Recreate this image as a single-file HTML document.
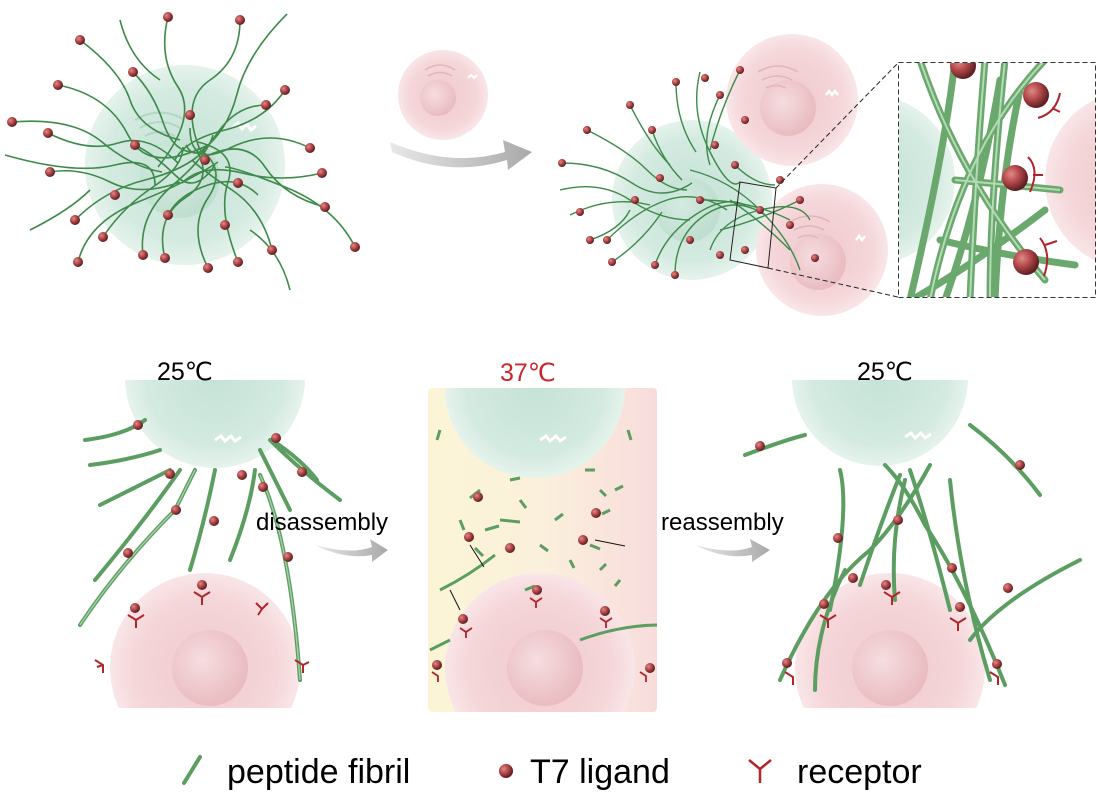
<!DOCTYPE html>
<html><head><meta charset="utf-8"><style>
html,body{margin:0;padding:0;background:#fff;}
svg{display:block;}
text{font-family:"Liberation Sans",Arial,sans-serif;}
</style></head><body>
<svg width="1098" height="796" viewBox="0 0 1098 796" xmlns="http://www.w3.org/2000/svg">
<defs>
<radialGradient id="gc" cx="50%" cy="50%" r="50%"><stop offset="0" stop-color="#c6e2d6"/><stop offset="0.75" stop-color="#d3eae0"/><stop offset="1" stop-color="#e6f3ed"/></radialGradient>
<radialGradient id="pc" cx="50%" cy="50%" r="50%"><stop offset="0" stop-color="#efc9cd"/><stop offset="0.75" stop-color="#f5d6d9"/><stop offset="1" stop-color="#f9e6e8"/></radialGradient>
<radialGradient id="gn" cx="40%" cy="40%" r="60%"><stop offset="0" stop-color="#d8ece3"/><stop offset="1" stop-color="#bcdccd"/></radialGradient>
<radialGradient id="pn" cx="40%" cy="40%" r="60%"><stop offset="0" stop-color="#f6dde0"/><stop offset="1" stop-color="#e9bcc1"/></radialGradient>
<radialGradient id="ball" cx="35%" cy="35%" r="65%"><stop offset="0" stop-color="#e08a88"/><stop offset="0.5" stop-color="#b3484a"/><stop offset="1" stop-color="#5e1f22"/></radialGradient>
<linearGradient id="mid" x1="0" x2="1"><stop offset="0" stop-color="#fbf5d6"/><stop offset="0.5" stop-color="#fbf0dc"/><stop offset="1" stop-color="#f8dcdc"/></linearGradient>
<linearGradient id="arr" x1="0" x2="1"><stop offset="0" stop-color="#e8e8e8"/><stop offset="1" stop-color="#a9a9a9"/></linearGradient>
<clipPath id="inset"><rect x="899" y="63" width="197" height="234"/></clipPath>
<clipPath id="bl"><rect x="0" y="380" width="1098" height="328"/></clipPath>
<clipPath id="bm"><rect x="428" y="388" width="229" height="324" rx="4"/></clipPath>
</defs>

<!-- ===== TOP LEFT ===== -->
<circle cx="185" cy="165" r="100" fill="url(#gc)"/>
<circle cx="180" cy="178" r="40" fill="url(#gn)" opacity="0.8"/>
<path d="M135 120 q25 -15 50 0 M140 128 q20 -12 40 0 M145 136 q15 -8 30 0" stroke="#b5d5c6" stroke-width="2" fill="none"/>
<path d="M232 128 l6 -5 l4 6 l5 -5 l4 6 l5 -4" stroke="#fff" stroke-width="3" fill="none"/>
<g stroke="#3d8a4a" stroke-width="1.6" fill="none">
<path d="M168 17 q-10 40 10 70 t-20 80"/>
<path d="M80 40 q40 30 50 60 t50 40"/>
<path d="M58 85 q50 10 70 50 t80 10"/>
<path d="M12 122 q60 -5 90 20 t60 30"/>
<path d="M48 133 q40 20 70 10 t60 20"/>
<path d="M5 155 q70 20 110 10 t40 20"/>
<path d="M50 172 q30 -5 60 10 t70 0"/>
<path d="M75 220 q30 -30 70 -40 t60 -30"/>
<path d="M78 262 q10 -40 60 -60 t80 -40"/>
<path d="M103 237 q20 -30 50 -50 t30 -40"/>
<path d="M143 255 q-5 -40 30 -70 t40 -50"/>
<path d="M165 258 q-10 -40 20 -60 t10 -50"/>
<path d="M208 268 q-20 -40 0 -70 t-10 -50"/>
<path d="M238 262 q-20 -50 -10 -80 t-30 -40"/>
<path d="M272 250 q-10 -40 -40 -60 t-40 -30"/>
<path d="M325 207 q-40 -10 -60 -40 t-60 -10"/>
<path d="M355 247 q-20 -40 -70 -60 t-60 -20"/>
<path d="M322 173 q-40 10 -80 0 t-60 10"/>
<path d="M310 148 q-40 -20 -80 0 t-40 -20"/>
<path d="M285 90 q-20 30 -60 40 t-50 30"/>
<path d="M266 105 q-30 0 -50 30 t-30 10"/>
<path d="M240 20 q0 40 -30 60 t-10 70"/>
<path d="M287 14 q-40 40 -50 80 t-40 60"/>
<path d="M133 72 q20 20 30 50 t30 30"/>
<path d="M135 145 q20 10 40 30 t40 -10"/>
<path d="M168 215 q10 -20 40 -30 t50 10"/>
<path d="M120 20 q10 40 40 60"/>
<path d="M30 230 q40 -20 60 -40"/>
<path d="M290 290 q-10 -40 -40 -60"/>
</g>
<g fill="url(#ball)">
<circle cx="168" cy="17" r="5"/><circle cx="80" cy="40" r="5"/><circle cx="58" cy="85" r="5"/><circle cx="12" cy="122" r="5"/><circle cx="48" cy="133" r="5"/><circle cx="50" cy="172" r="5"/><circle cx="75" cy="220" r="5"/><circle cx="78" cy="262" r="5"/><circle cx="103" cy="237" r="5"/><circle cx="143" cy="255" r="5"/><circle cx="165" cy="258" r="5"/><circle cx="208" cy="268" r="5"/><circle cx="238" cy="262" r="5"/><circle cx="272" cy="250" r="5"/><circle cx="325" cy="207" r="5"/><circle cx="355" cy="247" r="5"/><circle cx="322" cy="173" r="5"/><circle cx="310" cy="148" r="5"/><circle cx="285" cy="90" r="5"/><circle cx="266" cy="105" r="5"/><circle cx="240" cy="20" r="5"/><circle cx="133" cy="72" r="5"/><circle cx="135" cy="145" r="5"/><circle cx="168" cy="215" r="5"/><circle cx="238" cy="183" r="5"/><circle cx="205" cy="160" r="5"/><circle cx="190" cy="115" r="5"/><circle cx="115" cy="195" r="5"/><circle cx="225" cy="225" r="5"/>
</g>

<!-- small pink cell + arrow -->
<circle cx="443" cy="95" r="45" fill="url(#pc)"/>
<circle cx="438" cy="98" r="18" fill="url(#pn)"/>
<path d="M425 70 q15 -10 30 0 M428 76 q12 -7 24 0" stroke="#e3b4b9" stroke-width="1.5" fill="none"/>
<path d="M468 78 l3 -3 l3 3 l3 -3" stroke="#fff" stroke-width="2" fill="none"/>
<path d="M390 142 Q450 168 505 152 L503 140 L532 152 L508 170 L507 160 Q450 178 392 152 Z" fill="url(#arr)"/>

<!-- ===== TOP RIGHT ===== -->
<circle cx="692" cy="200" r="80" fill="url(#gc)"/>
<circle cx="688" cy="210" r="32" fill="url(#gn)" opacity="0.8"/>
<circle cx="792" cy="100" r="66" fill="url(#pc)"/>
<circle cx="788" cy="108" r="28" fill="url(#pn)"/>
<path d="M758 72 q20 -12 40 0 M762 80 q15 -8 30 0 M766 88 q10 -5 20 0" stroke="#e3b4b9" stroke-width="1.5" fill="none"/>
<path d="M826 95 l3 -4 l3 4 l3 -4 l3 4" stroke="#fff" stroke-width="2.5" fill="none"/>
<circle cx="822" cy="250" r="66" fill="url(#pc)"/>
<circle cx="818" cy="262" r="28" fill="url(#pn)"/>
<path d="M790 222 q20 -12 40 0 M794 230 q15 -8 30 0 M798 238 q10 -5 20 0" stroke="#e3b4b9" stroke-width="1.5" fill="none"/>
<path d="M856 240 l3 -4 l3 4 l3 -4" stroke="#fff" stroke-width="2.5" fill="none"/>
<g stroke="#3d8a4a" stroke-width="1.4" fill="none">
<path d="M562 163 q40 0 70 20 t60 0"/><path d="M560 190 q40 -10 70 10 t60 20"/><path d="M570 215 q40 -20 80 -10"/>
<path d="M587 130 q40 20 60 40 t40 20"/><path d="M607 240 q30 -30 60 -40 t60 10"/><path d="M612 262 q30 -20 50 -50"/>
<path d="M630 105 q20 40 40 60"/><path d="M652 130 q10 30 30 50"/><path d="M676 82 q0 40 20 70"/>
<path d="M700 72 q-10 40 10 80 t30 30"/><path d="M720 95 q-20 40 -10 70"/><path d="M740 70 q-20 40 -30 80"/>
<path d="M655 265 q10 -30 40 -50 t50 -10"/><path d="M675 275 q0 -40 30 -60 t60 0"/><path d="M710 250 q10 -30 50 -40 t50 10"/>
<path d="M690 170 q40 10 70 40 t40 60"/><path d="M700 200 q50 0 90 20"/><path d="M720 230 q40 -10 80 -30"/>
<path d="M735 165 q20 20 40 20"/><path d="M730 200 q30 20 60 50"/><path d="M590 240 q30 -10 40 -30"/>
</g>
<g fill="url(#ball)">
<circle cx="562" cy="163" r="4"/><circle cx="587" cy="130" r="4"/><circle cx="590" cy="240" r="4"/><circle cx="607" cy="240" r="4"/><circle cx="612" cy="262" r="4"/><circle cx="630" cy="105" r="4"/><circle cx="652" cy="130" r="4"/><circle cx="676" cy="82" r="4"/><circle cx="655" cy="265" r="4"/><circle cx="675" cy="275" r="4"/><circle cx="705" cy="78" r="4"/><circle cx="740" cy="70" r="4"/><circle cx="720" cy="95" r="4"/><circle cx="635" cy="200" r="4"/><circle cx="660" cy="178" r="4"/><circle cx="700" cy="200" r="4"/><circle cx="735" cy="165" r="4"/><circle cx="745" cy="120" r="4"/><circle cx="690" cy="240" r="4"/><circle cx="720" cy="255" r="4"/><circle cx="760" cy="210" r="4"/><circle cx="780" cy="180" r="4"/><circle cx="790" cy="225" r="4"/><circle cx="800" cy="200" r="4"/><circle cx="745" cy="250" r="4"/><circle cx="815" cy="258" r="4"/><circle cx="580" cy="212" r="4"/><circle cx="715" cy="145" r="4"/>
</g>
<polygon points="740,182 776,188 768,268 730,260" fill="none" stroke="#222" stroke-width="1"/>
<path d="M776 188 L898 63 M768 268 L898 297" stroke="#222" stroke-width="1" stroke-dasharray="5,3" fill="none"/>
<!-- inset -->
<g clip-path="url(#inset)">
<circle cx="870" cy="180" r="85" fill="url(#gc)"/>
<circle cx="1135" cy="180" r="90" fill="url(#pc)"/>
<g stroke="#6aa86e" stroke-width="7" fill="none" stroke-linecap="round">
<path d="M920 60 Q960 180 1045 280"/><path d="M955 60 Q945 150 910 300"/><path d="M985 60 Q975 180 970 300"/>
<path d="M1005 60 Q990 200 990 300"/><path d="M1045 60 Q960 150 930 300"/><path d="M1000 80 Q980 200 945 300"/>
<path d="M955 180 Q1010 185 1060 190"/><path d="M940 240 Q1000 255 1075 265"/><path d="M1045 210 Q980 260 915 298"/>
<path d="M1020 90 Q1000 180 995 300"/>
</g>
<g stroke="#b5dbb6" stroke-width="2" fill="none">
<path d="M920 60 Q960 180 1045 280"/><path d="M985 60 Q975 180 970 300"/><path d="M1045 60 Q960 150 930 300"/><path d="M1005 60 Q990 200 990 300"/><path d="M955 180 Q1010 185 1060 190"/>
</g>
<g fill="url(#ball)"><circle cx="963" cy="66" r="13"/><circle cx="1036" cy="95" r="13"/><circle cx="1015" cy="178" r="13"/><circle cx="1026" cy="262" r="13"/></g>
<g stroke="#b0242a" stroke-width="2" fill="none"><path d="M1038 118 q18 -5 22 -25 M1052 108 l8 4"/><path d="M1028 157 q12 12 2 35 M1033 175 l10 0"/><path d="M1040 238 q12 15 4 38 M1045 245 l12 -4"/></g>
</g>
<rect x="898.5" y="62.5" width="197" height="235" fill="none" stroke="#333" stroke-width="1" stroke-dasharray="5,3"/>

<!-- ===== BOTTOM ===== -->
<g clip-path="url(#bl)">
<circle cx="215" cy="378" r="90" fill="url(#gc)"/>
<circle cx="205" cy="668" r="95" fill="url(#pc)"/>
<circle cx="210" cy="668" r="38" fill="url(#pn)"/>
<circle cx="880" cy="378" r="88" fill="url(#gc)"/>
<circle cx="890" cy="668" r="95" fill="url(#pc)"/>
<circle cx="890" cy="668" r="38" fill="url(#pn)"/>
</g>
<path d="M215 440 l6 -4 l4 5 l6 -5 l4 5 l6 -4" stroke="#fff" stroke-width="3" fill="none"/>
<path d="M905 437 l6 -4 l4 5 l6 -5 l4 5 l6 -4" stroke="#fff" stroke-width="3" fill="none"/>

<rect x="428" y="388" width="229" height="324" rx="4" fill="url(#mid)"/>
<g clip-path="url(#bm)">
<circle cx="535" cy="388" r="90" fill="url(#gc)"/>
<path d="M540 440 l6 -4 l4 5 l6 -5 l4 5 l6 -4" stroke="#fff" stroke-width="3" fill="none"/>
<circle cx="540" cy="668" r="95" fill="url(#pc)"/>
<circle cx="545" cy="668" r="38" fill="url(#pn)"/>
<g stroke="#5c9e62" stroke-width="3" fill="none">
<path d="M440 590 q30 -15 55 -35"/><path d="M580 640 q40 -15 80 -15"/><path d="M430 650 l20 -10"/>
<path d="M470 498 l10 -8 M500 520 l20 2 M485 530 l14 -4 M520 500 l6 8 M555 520 l8 -6 M600 490 l6 6 M610 510 l-8 4 M590 545 l10 4 M570 560 l4 8 M600 570 l6 -6 M620 580 l-5 6 M540 545 l8 6 M510 480 l10 -2 M460 520 l4 10 M440 430 l-3 10 M628 430 l3 10 M585 470 l10 0 M475 548 l8 8 M525 590 l10 -4 M615 490 l8 -4"/>
</g>
<g fill="url(#ball)"><circle cx="478" cy="497" r="5"/><circle cx="469" cy="537" r="5"/><circle cx="510" cy="548" r="5"/><circle cx="596" cy="513" r="5"/><circle cx="583" cy="540" r="5"/><circle cx="463" cy="619" r="5"/><circle cx="537" cy="590" r="5"/><circle cx="437" cy="665" r="5"/><circle cx="650" cy="668" r="5"/><circle cx="605" cy="611" r="5"/></g>
<g stroke="#b0242a" stroke-width="1.8" fill="none"><path d="M460 628 l6 4 l6 -4 M466 632 l0 6"/><path d="M530 598 l6 4 l6 -4 M536 602 l0 6"/><path d="M600 618 l6 4 l6 -4 M606 622 l0 6"/><path d="M432 672 l6 4 l0 6"/><path d="M640 672 l6 4 l0 6"/></g>
<path d="M470 545 l14 22 M595 540 l30 6 M450 590 l10 20" stroke="#111" stroke-width="1"/>
</g>

<g stroke="#5c9e62" stroke-width="4" fill="none" stroke-linecap="round">
<path d="M85 440 q40 -5 60 -20"/><path d="M90 465 q40 -5 70 -15"/><path d="M100 505 q40 -20 70 -35"/>
<path d="M80 625 q40 -60 95 -115 q10 -20 20 -40"/><path d="M95 580 q50 -60 85 -110"/><path d="M190 570 q15 -50 25 -100"/>
<path d="M230 560 q20 -50 25 -90"/><path d="M300 680 q-10 -140 -40 -205"/><path d="M290 510 q-20 -40 -30 -60"/>
<path d="M340 500 q-40 -30 -70 -60"/><path d="M272 440 q30 20 45 40"/>
</g>
<g stroke="#a9d1ab" stroke-width="1.3" fill="none"><path d="M80 625 q40 -60 95 -115 q10 -20 20 -40"/><path d="M300 680 q-10 -140 -40 -205"/></g>
<g fill="url(#ball)"><circle cx="138" cy="425" r="5"/><circle cx="170" cy="474" r="5"/><circle cx="176" cy="510" r="5"/><circle cx="128" cy="553" r="5"/><circle cx="214" cy="521" r="5"/><circle cx="242" cy="475" r="5"/><circle cx="263" cy="487" r="5"/><circle cx="276" cy="438" r="5"/><circle cx="302" cy="472" r="5"/><circle cx="288" cy="557" r="5"/><circle cx="135" cy="608" r="5"/><circle cx="202" cy="585" r="5"/></g>
<g stroke="#b0242a" stroke-width="2" fill="none">
<path d="M128 615 l8 5 l8 -5 M136 620 l0 8"/><path d="M194 592 l8 5 l8 -5 M202 597 l0 8"/><path d="M256 603 l6 6 l6 -6 M262 609 l-4 6"/>
<path d="M95 660 l8 5 l0 8 M103 665 l-6 2"/><path d="M295 660 l8 5 l6 -3 M303 665 l0 8"/>
</g>

<g stroke="#5c9e62" stroke-width="4" fill="none" stroke-linecap="round">
<path d="M745 455 q40 -15 60 -20"/><path d="M1040 495 q-30 -40 -70 -70"/><path d="M780 680 q40 -90 90 -130 q30 -30 60 -85"/>
<path d="M830 610 q20 -100 10 -140"/><path d="M860 585 q20 -60 40 -110"/><path d="M950 610 q-20 -80 -40 -140"/>
<path d="M990 680 q-30 -100 -40 -200"/><path d="M1005 685 q-40 -100 -80 -160 q-20 -40 -40 -60"/><path d="M970 640 q30 -40 110 -80"/>
<path d="M895 600 q-5 -60 10 -120"/><path d="M815 690 q0 -60 30 -120"/>
</g>
<g fill="url(#ball)"><circle cx="760" cy="446" r="5"/><circle cx="1020" cy="465" r="5"/><circle cx="824" cy="604" r="5"/><circle cx="853" cy="578" r="5"/><circle cx="886" cy="585" r="5"/><circle cx="952" cy="568" r="5"/><circle cx="960" cy="607" r="5"/><circle cx="1008" cy="588" r="5"/><circle cx="787" cy="663" r="5"/><circle cx="997" cy="664" r="5"/><circle cx="838" cy="538" r="5"/><circle cx="898" cy="520" r="5"/></g>
<g stroke="#b0242a" stroke-width="2" fill="none">
<path d="M820 615 l8 5 l8 -5 M828 620 l0 8"/><path d="M884 592 l8 5 l8 -5 M892 597 l0 8"/><path d="M950 618 l8 5 l8 -5 M958 623 l0 8"/>
<path d="M785 672 l8 5 l0 8"/><path d="M990 672 l8 5 l0 8"/>
</g>

<text x="157" y="380" font-size="25">25℃</text>
<text x="500" y="381" font-size="25" fill="#c8262b">37℃</text>
<text x="857" y="380" font-size="25">25℃</text>

<text x="256" y="530" font-size="24">disassembly</text>
<path d="M315 545 Q350 555 372 547 L370 539 L388 550 L372 562 L372 555 Q345 560 315 545 Z" fill="url(#arr)"/>
<text x="661" y="530" font-size="24">reassembly</text>
<path d="M695 545 Q730 555 752 547 L750 539 L770 550 L752 562 L752 555 Q725 560 695 545 Z" fill="url(#arr)"/>

<path d="M184 783 Q192 770 200 757" stroke="#5c9e62" stroke-width="4" fill="none" stroke-linecap="round"/>
<text x="227" y="783" font-size="34">peptide fibril</text>
<circle cx="506" cy="771" r="7" fill="url(#ball)"/>
<text x="530" y="783" font-size="34">T7 ligand</text>
<path d="M749 760 l11 9 l11 -9 M760 769 l0 14" stroke="#b0242a" stroke-width="2.5" fill="none"/>
<text x="797" y="783" font-size="34">receptor</text>
</svg>
</body></html>
